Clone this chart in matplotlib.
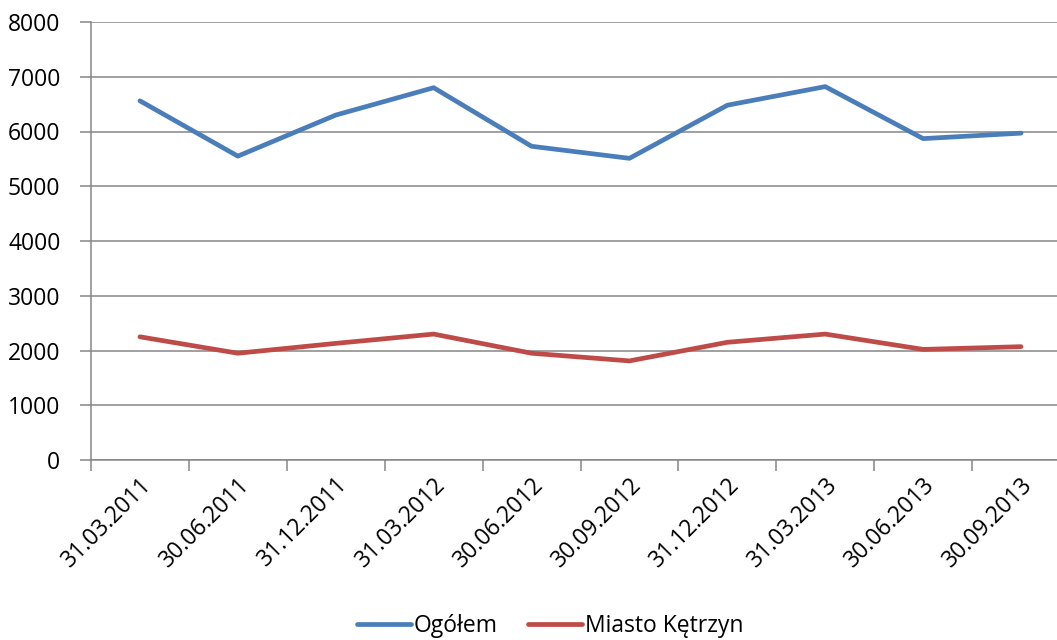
import matplotlib
matplotlib.use("Agg")
import matplotlib.pyplot as plt
from matplotlib.lines import Line2D

categories = ["31.03.2011", "30.06.2011", "31.12.2011", "31.03.2012", "30.06.2012",
              "30.09.2012", "31.12.2012", "31.03.2013", "30.06.2013", "30.09.2013"]
ogolem = [6560, 5550, 6300, 6800, 5730, 5510, 6480, 6820, 5870, 5970]
miasto = [2250, 1950, 2130, 2300, 1950, 1810, 2150, 2300, 2020, 2070]
series_names = ["Ogółem", "Miasto Kętrzyn"]
y_ticks = [0, 1000, 2000, 3000, 4000, 5000, 6000, 7000, 8000]

plt.rcParams['font.family'] = ['Open Sans', 'DejaVu Sans']
FS = 16.5

W, H = 1057, 640
fig = plt.figure(figsize=(W / 100, H / 100), dpi=100)
left, right, bottom, top = 91, 1070, 460, 22
ax = fig.add_axes([left / W, 1 - bottom / H, (right - left) / W, (bottom - top) / H])

x = list(range(len(categories)))
blue = "#4A7EBB"
red = "#BE4B48"
ax.plot(x, ogolem, color=blue, lw=3.4, solid_capstyle='round', solid_joinstyle='round', zorder=3)
ax.plot(x, miasto, color=red, lw=3.4, solid_capstyle='round', solid_joinstyle='round', zorder=3)

ax.set_xlim(-0.5, len(categories) - 0.5)
ax.set_ylim(0, 8000)
ax.set_yticks(y_ticks)
ax.set_yticklabels([str(v) for v in y_ticks])
ax.yaxis.grid(True, color="#868686", lw=1.1)
ax.set_axisbelow(True)

for s in ["top", "right"]:
    ax.spines[s].set_visible(False)
for s in ["left", "bottom"]:
    ax.spines[s].set_color("#868686")
    ax.spines[s].set_linewidth(1.1)

ax.tick_params(axis='y', length=8, width=1.1, color="#868686", pad=14, labelsize=FS)
# category boundary ticks on x
ax.set_xticks([i - 0.5 for i in range(len(categories) + 1)])
ax.set_xticklabels([])
ax.tick_params(axis='x', which='major', length=8, width=1.1, color="#868686")
ax.set_xticks(x, minor=True)
ax.set_xticklabels(categories, minor=True, rotation=45, ha='right', va='top',
                   rotation_mode='anchor', fontsize=FS)
ax.tick_params(axis='x', which='minor', length=0, pad=9)

handles = [Line2D([], [], color=blue, lw=3.4, solid_capstyle='round'),
           Line2D([], [], color=red, lw=3.4, solid_capstyle='round')]
fig.legend(handles, series_names, loc='center', bbox_to_anchor=(550 / W, 1 - 626 / H),
           ncol=2, frameon=False, fontsize=FS, handlelength=2.35, handletextpad=0.12,
           columnspacing=1.35)

fig.savefig("out.png", dpi=100)
